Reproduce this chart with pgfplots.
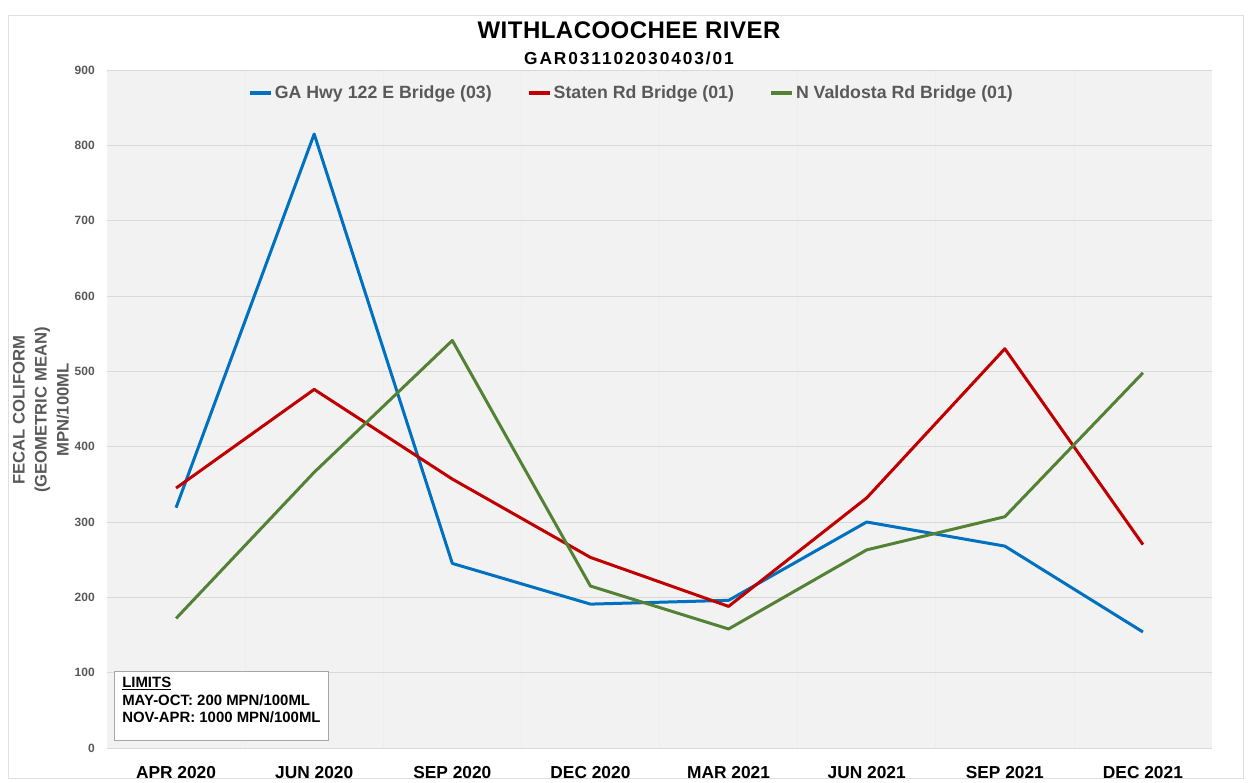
\documentclass[border=0pt]{standalone}
\usepackage{fontspec}
\setmainfont{Liberation Sans}
\usepackage{pgfplots}
\pgfplotsset{compat=1.18}
\definecolor{cblue}{HTML}{0070C0}
\definecolor{cred}{HTML}{C00000}
\definecolor{cgreen}{HTML}{548235}
\definecolor{plotbg}{HTML}{F2F2F2}
\definecolor{gridc}{HTML}{D9D9D9}
\definecolor{txtgray}{HTML}{595959}
\begin{document}
\begin{tikzpicture}[x=0.75pt,y=0.75pt]
\useasboundingbox (0,0) rectangle (1251,782);
\draw[gray!25, line width=0.75pt] (8,4) rectangle (1243,766);
\node[font=\bfseries\fontsize{18}{20}\selectfont\addfontfeature{LetterSpace=2}] at (629,752) {WITHLACOOCHEE RIVER};
\node[font=\bfseries\fontsize{13}{15}\selectfont\addfontfeature{LetterSpace=11}] at (629,724) {GAR031102030403/01};
\begin{axis}[
  at={(80.25pt,25.5pt)}, anchor=south west,
  scale only axis, width=828.75pt, height=508.5pt,
  xmin=-0.5, xmax=7.5, ymin=0, ymax=900,
  xtick={0,...,7},
  xticklabels={APR 2020,JUN 2020,SEP 2020,DEC 2020,MAR 2021,JUN 2021,SEP 2021,DEC 2021},
  ytick={0,100,...,900},
  minor xtick={0.5,1.5,...,6.5},
  xminorgrids=true, ymajorgrids=true,
  major grid style={gridc, line width=0.75pt},
  minor grid style={black!7, line width=0.5pt},
  extra y ticks={900}, extra y tick labels={},
  extra y tick style={grid style={black!55, line width=1pt}},
  axis background/.style={fill=plotbg},
  axis line style={draw=none},
  major tick length=0pt, minor tick length=0pt,
  /pgf/number format/assume math mode=true,
  xticklabel style={font=\bfseries\fontsize{13}{15}\selectfont, anchor=base, inner sep=0pt, yshift=-22.5pt},
  yticklabel style={font=\bfseries\fontsize{9}{10}\selectfont, text=txtgray, anchor=east, inner sep=0pt, xshift=-9pt},
  legend columns=3,
  legend style={at={(0.5,0.966)}, anchor=center, xshift=-21pt, draw=none, fill=none,
    font=\bfseries\fontsize{13.3}{15}\selectfont, text=txtgray,
    /tikz/every even column/.append style={column sep=24pt},
    /tikz/every odd column/.append style={column sep=-1pt}},
  legend cell align=left,
  legend image code/.code={\draw[#1, line width=3.5pt] (0pt,0pt) -- (16pt,0pt);},
  every axis plot/.append style={line width=2.25pt, line join=round},
]
\addplot[cblue, mark=none] coordinates {(0,319) (1,815) (2,245) (3,191) (4,196) (5,300) (6,268) (7,154)};
\addlegendentry{GA Hwy 122 E Bridge (03)}
\addplot[cred, mark=none] coordinates {(0,345) (1,476) (2,357) (3,253) (4,188) (5,332) (6,530) (7,270)};
\addlegendentry{Staten Rd Bridge (01)}
\addplot[cgreen, mark=none] coordinates {(0,172) (1,366) (2,541) (3,215) (4,158) (5,263) (6,307) (7,498)};
\addlegendentry{N Valdosta Rd Bridge (01)}
\end{axis}
\node[rotate=90, align=center, font=\bfseries\fontsize{12.5}{16.5}\selectfont, text=txtgray] at (41,372) {FECAL COLIFORM\\(GEOMETRIC MEAN)\\MPN/100ML};
\draw[black!35, fill=white, line width=0.75pt] (114,42) rectangle (328,111);
\node[anchor=north west, align=left, inner sep=0pt, font=\bfseries\fontsize{11.2}{13.2}\selectfont] at (122,105) {\underline{LIMITS}\\MAY-OCT: 200 MPN/100ML\\NOV-APR: 1000 MPN/100ML};
\end{tikzpicture}
\end{document}
